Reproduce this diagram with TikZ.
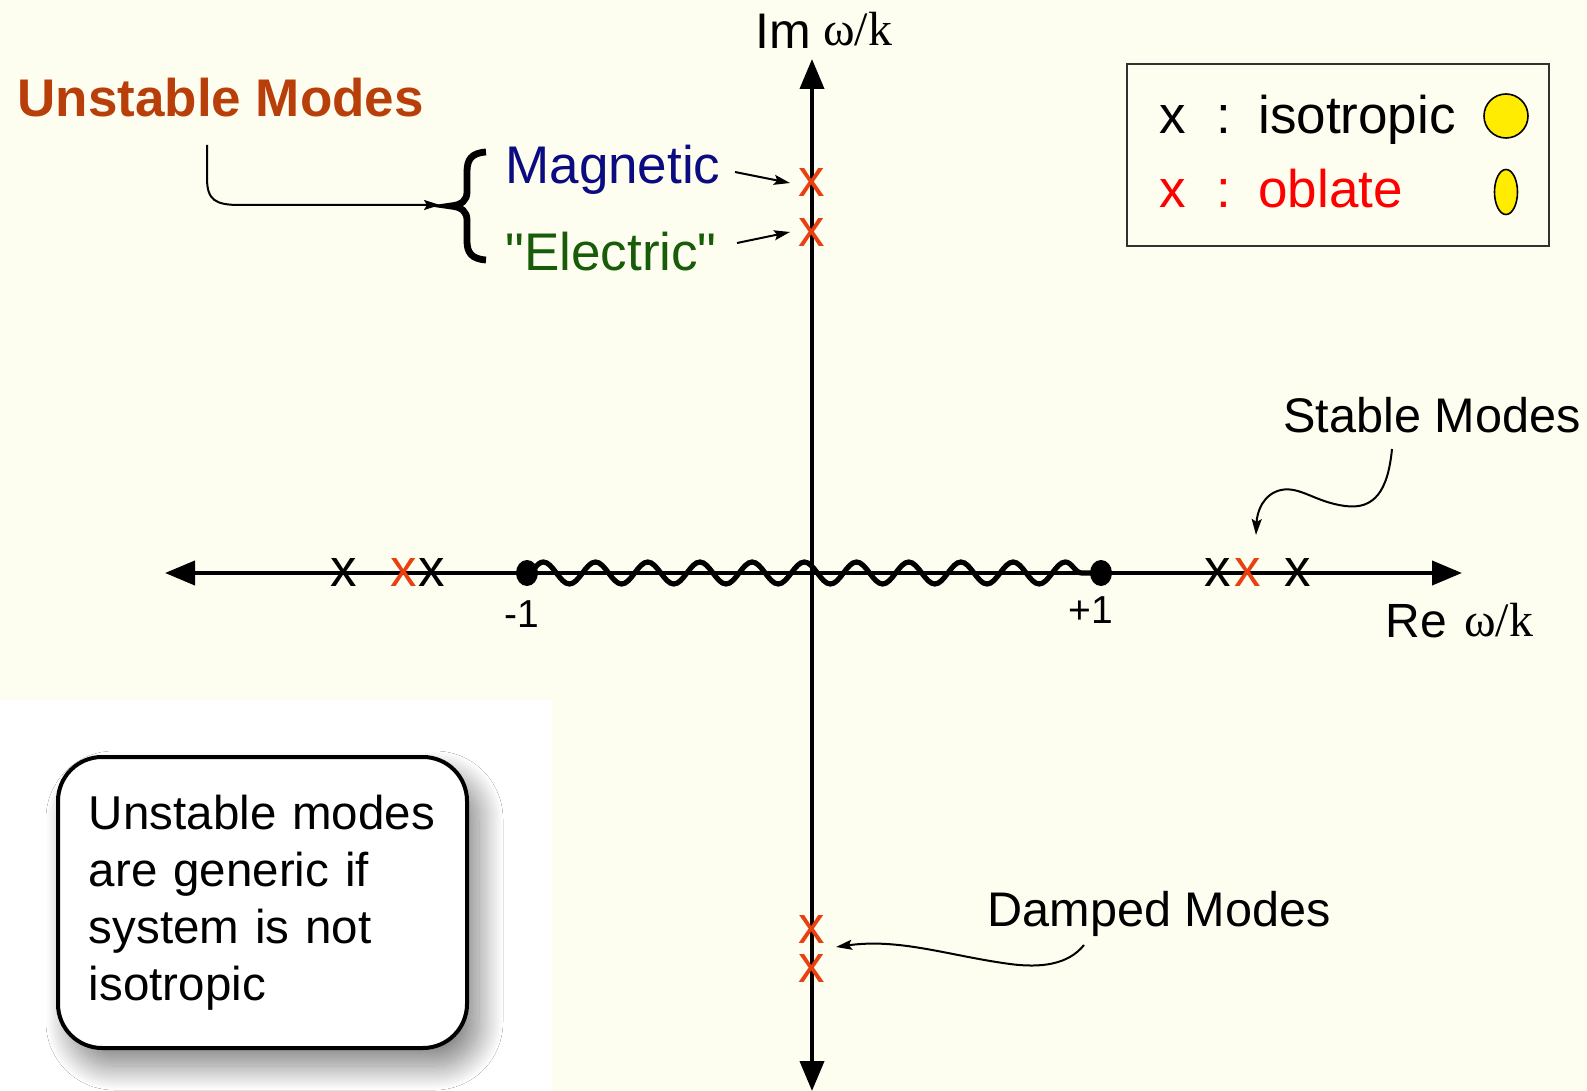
\documentclass[tikz,border=0pt]{standalone}
\usepackage{fontspec}
\setmainfont{Liberation Sans}[Ligatures=TeXOff]
\newfontfamily\seriffont{Liberation Serif}
\usetikzlibrary{arrows.meta,decorations.pathmorphing,shadows.blur}
\definecolor{bgcream}{RGB}{254,254,240}
\definecolor{markred}{RGB}{232,64,16}
\definecolor{unstcol}{RGB}{184,62,10}
\definecolor{magcol}{RGB}{12,12,130}
\definecolor{eleccol}{RGB}{24,92,10}
\definecolor{legred}{RGB}{255,0,0}
\definecolor{ballyellow}{RGB}{255,236,0}
\definecolor{legframe}{RGB}{50,50,50}
\tikzset{
  axisline/.style={line width=2pt, -{Triangle[length=15pt,width=12pt]}},
  bigfont/.style={font=\fontsize{26.5pt}{31pt}\selectfont},
  midfont/.style={font=\fontsize{24.3pt}{29pt}\selectfont},
  tickfont/.style={font=\fontsize{19.5pt}{23pt}\selectfont},
  greekfont/.style={font=\fontsize{24pt}{28pt}\selectfont\seriffont},
  xmark/.style={inner sep=0pt, font=\fontsize{26.5pt}{31pt}\selectfont},
  pointer/.style={line width=1pt, -{Stealth[length=8pt,width=5pt,inset=1.5pt]}},
  enddot/.style={fill=black},
}
\begin{document}
\begin{tikzpicture}[x=0.5pt,y=-0.5pt]
\useasboundingbox (0,0) rectangle (1587,1091);
\fill[bgcream] (0,0) rectangle (1587,1091);
\fill[white] (0,700) rectangle (552,1091);

% axes
\coordinate (O) at (812,573);
\coordinate (vtop) at (812,59);
\coordinate (vbot) at (812,1091);
\coordinate (hleft) at (165,573);
\coordinate (hright) at (1462,573);
\draw[axisline] (O) -- (vtop);
\draw[axisline] (O) -- (vbot);
\draw[axisline] (O) -- (hleft);
\draw[axisline] (O) -- (hright);

% branch cut
\coordinate (mone) at (527,573);
\coordinate (pone) at (1101,573);
\draw[line width=2.6pt, decorate, decoration={snake, segment length=26.1pt, amplitude=5.5pt}] (mone) -- (pone);
\fill[enddot] (mone) ellipse [x radius=11, y radius=13];
\fill[enddot] (pone) ellipse [x radius=11, y radius=13];
\node[tickfont, anchor=base] (lmone) at (522,627) {-1};
\node[tickfont, anchor=base] (lpone) at (1091,624) {+1};

% axis labels
\node[font=\fontsize{25pt}{30pt}\selectfont, anchor=base west, inner sep=0pt] (imlab) at (755,49) {Im};
\node[greekfont, anchor=base west, inner sep=0pt] (imw) at (823,46) {ω/k};
\node[font=\fontsize{24pt}{29pt}\selectfont, anchor=base west, inner sep=0pt] (relab) at (1385,638) {Re};
\node[greekfont, anchor=base west, inner sep=0pt] (rew) at (1464,636) {ω/k};

% modes on real axis
\node[xmark] (r1) at (344,573) {x};
\node[xmark, text=markred] (r2) at (404,573) {x};
\node[xmark] (r3) at (432,573) {x};
\node[xmark] (r4) at (1218,573) {x};
\node[xmark, text=markred] (r5) at (1248,573) {x};
\node[xmark] (r6) at (1298,573) {x};

% modes on imaginary axis
\node[xmark, text=markred] (m1) at (812,183) {x};
\node[xmark, text=markred] (m2) at (812,233) {x};
\node[xmark, text=markred] (d1) at (812,929) {x};
\node[xmark, text=markred] (d2) at (812,968) {x};

% unstable modes
\node[font=\fontsize{26.5pt}{31pt}\selectfont\bfseries, text=unstcol, anchor=base west, inner sep=0pt] (unst) at (17,117) {Unstable Modes};
\node[bigfont, text=magcol, anchor=base west, inner sep=0pt] (mag) at (505,184) {Magnetic};
\node[bigfont, text=eleccol, anchor=base west, inner sep=0pt] (elec) at (505,271) {"Electric"};
\coordinate (bracetip) at (451,206);
\draw[line width=3.4pt] (486,152) .. controls (471,153) and (467,160) .. (467,172)
  -- (467,192) .. controls (467,200) and (462,205) .. (bracetip)
  .. controls (462,207) and (467,212) .. (467,220)
  -- (467,241) .. controls (467,252) and (471,259) .. (486,260);
\coordinate (ustart) at (207,145);
\coordinate (utip) at (440,205);
\draw[pointer] (ustart) -- (207,178) .. controls (207,200) and (215,205) .. (240,205) -- (utip);
\coordinate (magfrom) at (735,172);
\coordinate (magto) at (790,183);
\coordinate (elfrom) at (737,243);
\coordinate (elto) at (790,232);
\draw[pointer] (magfrom) -- (magto);
\draw[pointer] (elfrom) -- (elto);

% stable modes
\node[midfont, anchor=base west, inner sep=0pt] (stab) at (1283,433) {Stable Modes};
\coordinate (sstart) at (1392,449);
\coordinate (stip) at (1256,535);
\draw[pointer] (sstart) .. controls (1388,490) and (1375,510) .. (1345,506)
  .. controls (1315,502) and (1300,486) .. (1281,490)
  .. controls (1263,494) and (1257,512) .. (stip);

% damped modes
\node[midfont, anchor=base west, inner sep=0pt] (damp) at (987,926) {Damped Modes};
\coordinate (dstart) at (1084,945);
\coordinate (dtip) at (836,947);
\draw[pointer] (dstart) .. controls (1068,965) and (1040,968) .. (1010,964)
  .. controls (950,956) and (900,938) .. (dtip);

% legend
\draw[legframe, line width=1pt] (1127,64) rectangle (1549,246);
\node[bigfont, anchor=base west, inner sep=0pt] (lx1) at (1159,134) {x};
\node[bigfont, anchor=base west, inner sep=0pt] (lc1) at (1216,134) {:};
\node[bigfont, anchor=base west, inner sep=0pt] (liso) at (1258,134) {isotropic};
\node[bigfont, text=legred, anchor=base west, inner sep=0pt] (lx2) at (1159,208) {x};
\node[bigfont, text=legred, anchor=base west, inner sep=0pt] (lc2) at (1216,208) {:};
\node[bigfont, text=legred, anchor=base west, inner sep=0pt] (lobl) at (1258,208) {oblate};
\draw[fill=ballyellow, line width=0.8pt] (1506,116) circle [radius=22];
\draw[fill=ballyellow, line width=0.8pt] (1506,192) ellipse [x radius=11.5, y radius=22.5];

% note box
\node[draw, line width=2pt, fill=white, rounded corners=22pt,
  minimum width=204.5pt, minimum height=145.5pt, text width=173.5pt,
  inner xsep=15.5pt, align=left,
  font=\fontsize{23.75pt}{28.5pt}\selectfont,
  blur shadow={shadow xshift=6pt, shadow yshift=-9pt, shadow blur radius=12pt, shadow blur steps=40, shadow opacity=50}]
  (note) at (262.5,902.5) {Unstable modes\\are generic if\\system is not\\isotropic};
\end{tikzpicture}
\end{document}
